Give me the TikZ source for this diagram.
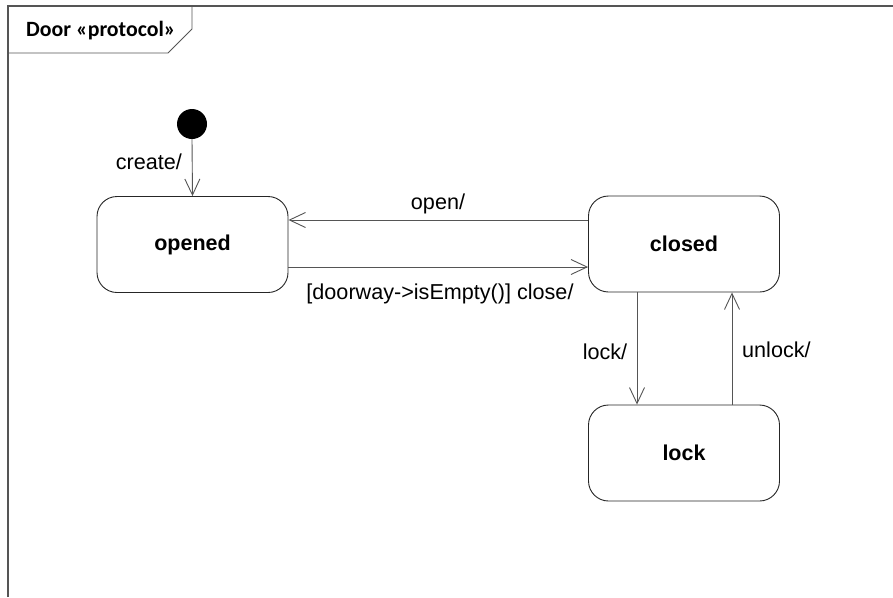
\documentclass[tikz,border=0pt]{standalone}
\usepackage{fontspec}
\setmainfont{Liberation Sans}
\newfontfamily\hdrfont{Carlito}
\usetikzlibrary{arrows.meta}
\definecolor{ln}{RGB}{85,85,85}
\begin{document}
\begin{tikzpicture}[x=1pt,y=-1pt,
  stbox/.style={draw=black!85,line width=0.9pt,rounded corners=20pt,minimum width=191pt,minimum height=96pt,inner sep=0pt,font=\fontsize{21.5}{25}\selectfont\bfseries},
  tr/.style={draw=ln,line width=0.9pt,-{Straight Barb[length=16pt,width=15pt,line width=0.9pt]}},
  lbl/.style={font=\fontsize{21.6}{25}\selectfont,inner sep=0pt}]
\useasboundingbox (0,0) rectangle (893,597);
\fill[white] (0,0) rectangle (893,597);
% frame
\draw[ln,line width=1.2pt] (8,597) -- (8,6) -- (893,6);
\draw[ln,line width=0.9pt] (8,53) -- (168,53) -- (192,29) -- (192,6);
\node[font=\hdrfont\fontsize{21.8}{25}\selectfont\bfseries,anchor=west,inner sep=0pt] (hdr) at (26,31) {Door «protocol»};
% states
\node[circle,fill=black,minimum size=30pt,inner sep=0pt] (init) at (192,124) {};
\node[stbox] (opened) at (192.5,244.5) {opened};
\node[stbox] (closed) at (684,244) {closed};
\node[stbox] (lock) at (684,453) {lock};
% transitions
\draw[tr] (init.south) -- (opened.north);
\node[lbl,anchor=east] (lcreate) at (182,162) {create/};
\draw[tr] (closed.west |- 0,220) -- (opened.east |- 0,220);
\node[lbl] (lopen) at (438,204) {open/};
\draw[tr] (opened.east |- 0,267) -- (closed.west |- 0,267);
\node[lbl] (lclose) at (440,294) {[doorway->isEmpty()] close/};
\draw[tr] (closed.south -| 637,0) -- (lock.north -| 637,0);
\node[lbl] (llock) at (605,352) {lock/};
\draw[tr] (lock.north -| 732,0) -- (closed.south -| 732,0);
\node[lbl,anchor=west] (lunlock) at (742,350) {unlock/};
\end{tikzpicture}
\end{document}
